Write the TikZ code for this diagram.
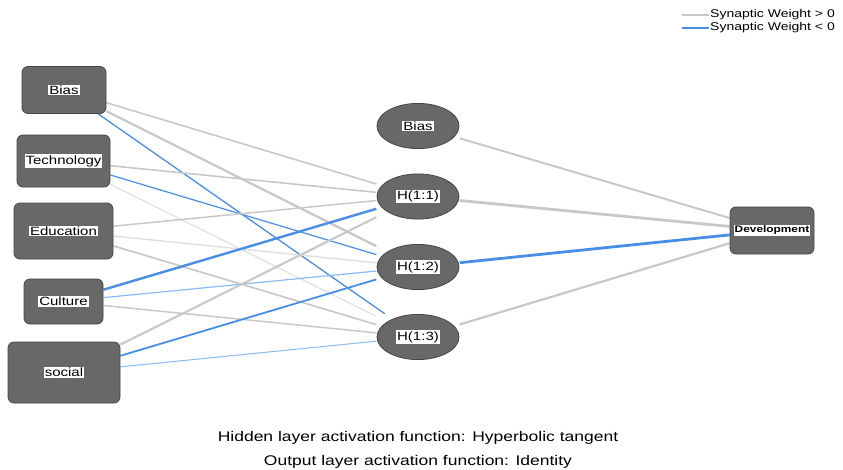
\documentclass[tikz,border=0pt]{standalone}
\usepackage{fontspec}
\usetikzlibrary{backgrounds}
\newfontfamily\netfont[FakeStretch=1.25]{Liberation Sans}
\definecolor{nngray}{RGB}{104,104,104}
\definecolor{nnedge}{RGB}{70,70,70}
\definecolor{nnpos}{RGB}{200,200,200}
\definecolor{nnposlight}{RGB}{222,222,222}
\definecolor{nnneg}{RGB}{72,142,228}
\definecolor{nnneglight}{RGB}{140,185,240}
\newcommand{\lbl}[1]{{\setlength{\fboxsep}{1pt}\colorbox{white}{#1}}}

\begin{document}
\begin{tikzpicture}[x=1pt, y=-1pt,
  inbox/.style={rectangle, rounded corners=6pt, draw=nnedge, fill=nngray,
    line width=0.8pt, inner sep=0pt, font=\netfont\fontsize{12}{13}\selectfont},
  hidnode/.style={rectangle, minimum width=83pt, minimum height=46pt, inner sep=0pt,
    font=\netfont\fontsize{12}{13}\selectfont,
    path picture={\draw[fill=nngray, draw=nnedge, line width=0.8pt]
      (path picture bounding box.center) ellipse [x radius=41pt, y radius=22.6pt];}},
  legtext/.style={anchor=west, inner sep=1pt, font=\netfont\fontsize{11.2}{12}\selectfont},
  captext/.style={anchor=base, inner sep=0pt, font=\netfont\fontsize{14}{16}\selectfont}]
\useasboundingbox (0,0) rectangle (843,469);

% Input layer
\node[inbox, minimum width=84pt, minimum height=47pt] (ibias) at (64,90) {\lbl{Bias}};
\node[inbox, minimum width=93pt, minimum height=52pt] (itech) at (63.5,161) {\lbl{Technology}};
\node[inbox, minimum width=99pt, minimum height=56pt] (iedu) at (63.5,231) {\lbl{Education}};
\node[inbox, minimum width=79pt, minimum height=45pt] (icult) at (63.5,301.5) {\lbl{Culture}};
\node[inbox, minimum width=112pt, minimum height=61pt] (isoc) at (64,372.5) {\lbl{social}};

% Hidden layer
\node[hidnode] (hbias) at (418,126) {\lbl{Bias}};
\node[hidnode] (h1) at (418,196.5) {\lbl{H(1:1)}};
\node[hidnode] (h2) at (418,267) {\lbl{H(1:2)}};
\node[hidnode] (h3) at (418,337) {\lbl{H(1:3)}};

% Output layer
\node[inbox, minimum width=84pt, minimum height=47pt,
  font=\netfont\fontsize{9.5}{11}\selectfont\bfseries] (odev) at (772,230.5) {\lbl{Development}};

% Synaptic weights
\begin{scope}[on background layer]
\foreach \src/\dst/\col/\w in {
  ibias/h1/nnpos/1.6, ibias/h2/nnpos/2.3, ibias/h3/nnneg/1.3,
  itech/h1/nnpos/1.6, itech/h2/nnneg/1.2, itech/h3/nnposlight/1.1,
  iedu/h1/nnpos/1.5, iedu/h2/nnposlight/1.4, iedu/h3/nnpos/1.7,
  icult/h1/nnneg/2.4, icult/h2/nnneglight/1.2, icult/h3/nnpos/1.5,
  isoc/h1/nnpos/2.1, isoc/h2/nnneg/1.8, isoc/h3/nnneglight/1.0} {
  \draw[\col, line width=\w pt] (\src) -- (\dst);
}
\foreach \src/\col/\w in {hbias/nnpos/2.0, h1/nnpos/2.8, h2/nnneg/2.8, h3/nnpos/2.2} {
  \draw[\col, line width=\w pt] (\src) -- (odev);
}
\end{scope}

% Legend
\node[legtext] (lgpos) at (709,15) {Synaptic Weight > 0};
\node[legtext] (lgneg) at (709,28) {Synaptic Weight < 0};
\draw[nnpos, line width=2.5pt] ([xshift=-27pt]lgpos.west) -- (lgpos.west);
\draw[nnneg, line width=2.5pt] ([xshift=-27pt]lgneg.west) -- (lgneg.west);

% Activation functions
\node[captext] (cap1) at (418,441) {Hidden layer activation function: Hyperbolic tangent};
\node[captext] (cap2) at (418,465) {Output layer activation function: Identity};

\end{tikzpicture}
\end{document}
